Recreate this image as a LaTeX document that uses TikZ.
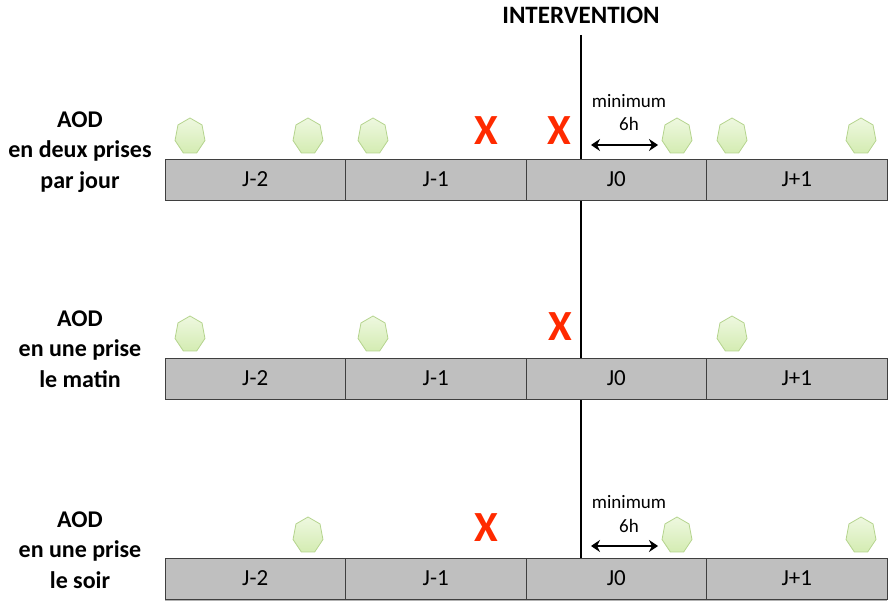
\documentclass[tikz,border=0pt]{standalone}
\usepackage{fontspec}
\setmainfont{Carlito}
\usetikzlibrary{shapes.geometric,arrows.meta,shadows,backgrounds}
\definecolor{barfill}{HTML}{BFBFBF}
\definecolor{barline}{HTML}{3F3F3F}
\definecolor{pilltop}{HTML}{EEF8E0}
\definecolor{pillbot}{HTML}{D4ECB2}
\definecolor{pillline}{HTML}{B5D48E}
\definecolor{crossred}{HTML}{FF2A00}
\tikzset{
  daybox/.style = {draw=barline, fill=barfill, line width=0.8pt, minimum width=180.5pt, minimum height=41pt, inner sep=0pt, font=\fontsize{23}{26}\selectfont,
    drop shadow={shadow xshift=0pt, shadow yshift=-1.5pt, opacity=0.3, fill=black}},
  pill/.style = {regular polygon, regular polygon sides=7, minimum size=36.8pt, inner sep=0pt, xscale=0.835, transform shape, draw=pillline, top color=pilltop, bottom color=pillbot, line width=0.8pt},
  cross/.style = {text=crossred, inner sep=0pt, font=\fontsize{43}{43}\selectfont\bfseries},
  rowlabel/.style = {align=center, inner sep=0pt, font=\fontsize{24}{30.5}\selectfont\bfseries},
  note/.style = {inner sep=0pt, anchor=base, font=\fontsize{19}{21}\selectfont},
  gap/.style = {{Stealth[length=9pt,width=12pt,inset=3pt]}-{Stealth[length=9pt,width=12pt,inset=3pt]}, line width=2.8pt},
}

\begin{document}
\begin{tikzpicture}[x=1pt, y=-1pt]
  \useasboundingbox (0,0) rectangle (889,601);

  % day bars
  \foreach \r/\yc in {1/179.5, 2/378.5, 3/578.5}
    \foreach \d/\xc/\txt in {1/255.25/J-2, 2/435.75/J-1, 3/616.25/J0, 4/796.75/J+1}
      \node [daybox] (b\r\d) at (\xc,\yc) {\txt};

  % intervention
  \node [font=\fontsize{25}{28}\selectfont\bfseries, inner sep=0pt] (interv) at (581,15) {INTERVENTION};
  \coordinate (vtop) at (581,35);
  \begin{pgfonlayer}{background}
    \draw [line width=2.2pt] (vtop) -- (vtop |- b33.north);
  \end{pgfonlayer}

  % row labels
  \node [rowlabel] (lab1) at (80,152) {AOD\\en deux prises\\par jour};
  \node [rowlabel] (lab2) at (80,349) {AOD\\en une prise\\le matin};
  \node [rowlabel] (lab3) at (80,550) {AOD\\en une prise\\le soir};

  % doses
  \foreach \n/\xp in {a/190, b/308, c/373, d/677, e/732, f/861}
    \node [pill] (p1\n) at (\xp,136.4) {};
  \foreach \n/\xp in {a/190, c/373, e/732}
    \node [pill] (p2\n) at (\xp,334.4) {};
  \foreach \n/\xp in {b/308, d/677, f/861}
    \node [pill] (p3\n) at (\xp,535.4) {};

  % stops
  \node [cross] (x1a) at (486,131) {X};
  \node [cross] (x1b) at (559,131) {X};
  \node [cross] (x2b) at (560,327) {X};
  \node [cross] (x3a) at (486,528) {X};

  % minimum delay
  \node [note] (min1) at (629,108) {minimum};
  \node [note] (h1) at (629,131) {6h};
  \coordinate (g1) at (591,145);
  \draw [gap] (g1) -- (g1 -| 658,0);
  \node [note] (min3) at (629,508) {minimum};
  \node [note] (h3) at (629,532) {6h};
  \coordinate (g3) at (591,546);
  \draw [gap] (g3) -- (g3 -| 658,0);
\end{tikzpicture}
\end{document}
